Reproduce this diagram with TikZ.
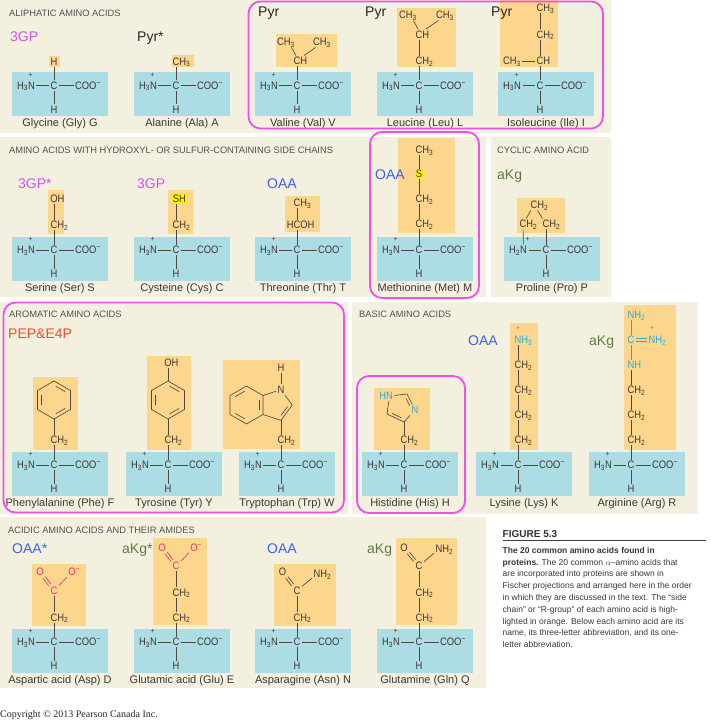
\documentclass[tikz,border=0pt]{standalone}
\usepackage{fontspec}
\setmainfont{Liberation Sans}
\newfontfamily\molfont[FakeStretch=0.87]{Liberation Sans}
\newfontfamily\seriffont{Liberation Serif}
\usetikzlibrary{positioning,calc}
\newcommand\fsz[1]{\fontsize{#1}{#1}\selectfont}
\definecolor{Beige}{RGB}{244,240,224}
\definecolor{Aqua}{RGB}{172,220,228}
\definecolor{Peach}{RGB}{253,214,142}
\definecolor{Magenta}{RGB}{240,80,232}
\definecolor{Ink}{RGB}{60,55,50}
\definecolor{Head}{RGB}{80,80,80}
\definecolor{BondC}{RGB}{80,72,62}
\definecolor{Lilac}{RGB}{206,86,236}
\definecolor{OAAblue}{RGB}{62,96,236}
\definecolor{KgGreen}{RGB}{96,122,66}
\definecolor{PEPred}{RGB}{242,76,44}
\definecolor{Cyanish}{RGB}{40,170,212}
\definecolor{Pinkish}{RGB}{234,52,112}
\definecolor{Lemon}{RGB}{255,240,0}
\tikzset{%
  panel/.style={fill=Beige},
  rgroup/.style={fill=Peach},
  sulfur/.style={fill=Lemon},
  core/.style={%
    fill=Aqua, minimum width=96pt, minimum height=44pt, inner sep=0pt
  },
  atom/.style={%
    font=\molfont\fsz{10.8}, text=Ink, inner sep=1.4pt,
    text height=7.7pt, text depth=0pt
  },
  plus/.style={font=\molfont\fsz{7.5}, text=Ink, inner sep=0pt},
  bond/.style={draw=BondC, line width=0.65pt},
  ring/.style={draw=BondC, line width=0.65pt, line join=round},
  acidbond/.style={draw=Pinkish, line width=0.65pt},
  guanbond/.style={draw=Cyanish, line width=0.65pt},
  aaname/.style={%
    font=\fsz{11}, text=Ink, inner sep=0pt, text height=8pt, text depth=0pt
  },
  heading/.style={%
    font=\fsz{9.3}, text=Head, anchor=west, inner sep=0pt,
    text height=6.7pt, text depth=0pt
  },
  precursor/.style={%
    font=\fsz{14}, text=black!85, anchor=west, inner sep=0pt,
    text height=10pt, text depth=0pt
  },
  hilite/.style={draw=Magenta, line width=1.8pt, rounded corners=12pt},
  caption/.style={%
    font=\fontsize{8.5}{11.8}\selectfont, text=Ink, align=left, inner sep=0pt
  },
}
% backbone: id, name, H count, x of the plus sign
\newcommand\backbone[4]{%
  \node[core] (#1-core) at (6,9) {};
  \node[atom] (#1-C) at (0,0) {C};
  \node[atom] (#1-N) at (-22.5,0) {\llap{H\textsubscript{#3}}N};
  \node[plus] (#1-Nplus) at (#4,-10.5) {+};
  \node[atom, anchor=west] (#1-COO) at (19.5,0) {COO\textsuperscript{−}};
  \node[atom] (#1-H) at (0,24) {H};
  \node[aaname] (#1-name) at (6,37.5) {#2};
  \draw[bond] (#1-N) -- (#1-C);
  \draw[bond] (#1-C) -- (#1-COO);
  \draw[bond] (#1-C) -- (#1-H);
}
\newcommand\benzene[3]{%
  \coordinate (#1-0) at #2;
  \foreach \k/\ang in {1/-90,2/-30,3/30,4/90,5/150,6/210}
    {\coordinate (#1-\k) at ($(#1-0)+(\ang:#3)$);}
  \draw[ring] (#1-1) -- (#1-2) -- (#1-3) -- (#1-4) -- (#1-5) -- (#1-6) -- cycle;
}
\newcommand\dbl[3]{%
  \draw[bond, shorten <=2pt, shorten >=2pt] ($(#1)!0.78!(#2)$) -- ($(#1)!0.78!(#3)$);
}
\newcommand\dblbond[3]{%
  \draw[#1, transform canvas={xshift=1.1pt,yshift=0.85pt}] (#2) -- (#3);
  \draw[#1, transform canvas={xshift=-1.1pt,yshift=-0.85pt}] (#2) -- (#3);
}
\begin{document}
\begin{tikzpicture}[x=1pt,y=-1pt]
\useasboundingbox (0,0) rectangle (710,722);
\fill[white] (0,0) rectangle (710,722);
% panels
\fill[panel] (0,0) rectangle (611,133);
\fill[panel] (0,137) rectangle (486,297);
\fill[panel] (491,137) rectangle (611,297);
\fill[panel] (0,302) rectangle (348,514);
\fill[panel] (352,302) rectangle (698,514);
\fill[panel] (0,517) rectangle (486,688);

% aliphatic
\node[heading] (aliph) at (9,13) {ALIPHATIC AMINO ACIDS};
\begin{scope}[shift={(54,85.5)}]
  \fill[rgroup] (-5.5,-29.5) rectangle (6,-18.5);
  \backbone{Gly}{Glycine (Gly) G}{3}{-23.5}
  \node[atom] (Gly-R) at (0,-24) {H};
  \draw[bond] (Gly-C) -- (Gly-R);
\end{scope}
\begin{scope}[shift={(176,85.5)}]
  \fill[rgroup] (-4,-30) rectangle (18,-18);
  \backbone{Ala}{Alanine (Ala) A}{3}{-23.5}
  \node[atom] (Ala-R) at (0,-24) {C\rlap{H\textsubscript{3}}};
  \draw[bond] (Ala-C) -- (Ala-R);
\end{scope}
\begin{scope}[shift={(297,85.5)}]
  \fill[rgroup] (-21,-51.5) rectangle (40,-18.5);
  \backbone{Val}{Valine (Val) V}{3}{-23.5}
  \node[atom] (Val-b) at (0,-24.5) {C\rlap{H}};
  \node[atom] (Val-g1) at (-11,-43.5) {CH\textsubscript{3}};
  \node[atom] (Val-g2) at (25,-43.5) {CH\textsubscript{3}};
  \draw[bond] (Val-C) -- (Val-b);
  \draw[bond] ([xshift=-1pt]Val-b.north) -- ([xshift=-5pt]Val-g1.south east);
  \draw[bond] ([xshift=7pt]Val-b.north) -- ([xshift=4pt]Val-g2.south west);
\end{scope}
\begin{scope}[shift={(419,85.5)}]
  \fill[rgroup] (-22,-77) rectangle (37,-18);
  \backbone{Leu}{Leucine (Leu) L}{3}{-23.5}
  \node[atom] (Leu-b) at (0,-24.5) {C\rlap{H\textsubscript{2}}};
  \node[atom] (Leu-g) at (0,-51) {C\rlap{H}};
  \node[atom] (Leu-d1) at (-11,-70.5) {CH\textsubscript{3}};
  \node[atom] (Leu-d2) at (26,-70.5) {CH\textsubscript{3}};
  \draw[bond] (Leu-C) -- (Leu-b);
  \draw[bond] (Leu-b) -- (Leu-g);
  \draw[bond] ([xshift=-1pt]Leu-g.north) -- ([xshift=-5pt]Leu-d1.south east);
  \draw[bond] ([xshift=7pt]Leu-g.north) -- ([xshift=4pt]Leu-d2.south west);
\end{scope}
\begin{scope}[shift={(540,85.5)}]
  \fill[rgroup] (-40,-85.5) rectangle (18,-18);
  \backbone{Ile}{Isoleucine (Ile) I}{3}{-23.5}
  \node[atom] (Ile-b) at (0,-24.5) {C\rlap{H}};
  \node[atom] (Ile-m) at (-28,-24.5) {CH\textsubscript{3}};
  \node[atom] (Ile-g) at (0,-51) {C\rlap{H\textsubscript{2}}};
  \node[atom] (Ile-d) at (0,-77.5) {C\rlap{H\textsubscript{3}}};
  \draw[bond] (Ile-C) -- (Ile-b);
  \draw[bond] (Ile-m) -- (Ile-b);
  \draw[bond] (Ile-b) -- (Ile-g);
  \draw[bond] (Ile-g) -- (Ile-d);
\end{scope}

% hydroxyl / sulfur and cyclic
\node[heading] (hydrox) at (9,150) {AMINO ACIDS WITH HYDROXYL- OR SULFUR-CONTAINING SIDE CHAINS};
\node[heading] (cyclic) at (497,150) {CYCLIC AMINO ACID};
\begin{scope}[shift={(54,250)}]
  \fill[rgroup] (-6,-60) rectangle (10,-16);
  \backbone{Ser}{Serine (Ser) S}{3}{-23.5}
  \node[atom] (Ser-b) at (0,-25) {C\rlap{H\textsubscript{2}}};
  \node[atom] (Ser-g) at (0,-51) {O\rlap{H}};
  \draw[bond] (Ser-C) -- (Ser-b);
  \draw[bond] (Ser-b) -- (Ser-g);
\end{scope}
\begin{scope}[shift={(176,250)}]
  \fill[rgroup] (-8,-60) rectangle (17,-16);
  \fill[sulfur] (-4,-56) rectangle (12,-46);
  \backbone{Cys}{Cysteine (Cys) C}{3}{-23.5}
  \node[atom] (Cys-b) at (0,-25) {C\rlap{H\textsubscript{2}}};
  \node[atom] (Cys-g) at (0,-51) {S\rlap{H}};
  \draw[bond] (Cys-C) -- (Cys-b);
  \draw[bond] (Cys-b) -- (Cys-g);
\end{scope}
\begin{scope}[shift={(297,250)}]
  \fill[rgroup] (-12,-54) rectangle (23,-18);
  \backbone{Thr}{Threonine (Thr) T}{3}{-23.5}
  \node[atom] (Thr-b) at (0,-25) {\llap{H}C\rlap{OH}};
  \node[atom] (Thr-g) at (0,-47) {C\rlap{H\textsubscript{3}}};
  \draw[bond] (Thr-C) -- (Thr-b);
  \draw[bond] (Thr-b) -- (Thr-g);
\end{scope}
\begin{scope}[shift={(419,250)}]
  \fill[rgroup] (-21,-112) rectangle (36,-17);
  \fill[sulfur] (-4,-81) rectangle (4.5,-71);
  \backbone{Met}{Methionine (Met) M}{3}{-23.5}
  \node[atom] (Met-b) at (0,-26) {C\rlap{H\textsubscript{2}}};
  \node[atom] (Met-g) at (0,-51) {C\rlap{H\textsubscript{2}}};
  \node[atom] (Met-d) at (0,-76) {S};
  \node[atom] (Met-e) at (0,-100) {C\rlap{H\textsubscript{3}}};
  \draw[bond] (Met-C) -- (Met-b);
  \draw[bond] (Met-b) -- (Met-g);
  \draw[bond] (Met-g) -- (Met-d);
  \draw[bond] (Met-d) -- (Met-e);
\end{scope}
\begin{scope}[shift={(546,250)}]
  \fill[rgroup] (-29,-52) rectangle (19,-17);
  \backbone{Pro}{Proline (Pro) P}{2}{-18.5}
  \node[atom] (Pro-b) at (0,-26) {C\rlap{H\textsubscript{2}}};
  \node[atom] (Pro-d) at (-23,-26) {C\rlap{H\textsubscript{2}}};
  \node[atom] (Pro-g) at (-12,-45) {C\rlap{H\textsubscript{2}}};
  \draw[bond] (Pro-C) -- (Pro-b);
  \draw[bond] (Pro-N) -- (Pro-d);
  \draw[bond] (Pro-g) -- (Pro-d);
  \draw[bond] (Pro-g) -- (Pro-b);
\end{scope}

% aromatic and basic
\node[heading] (arom) at (9,314) {AROMATIC AMINO ACIDS};
\node[heading] (basic) at (359,314) {BASIC AMINO ACIDS};
\begin{scope}[shift={(54,465)}]
  \fill[rgroup] (-21,-88) rectangle (24,-15);
  \backbone{Phe}{Phenylalanine (Phe) F}{3}{-23.5}
  \node[atom] (Phe-b) at (0,-25) {C\rlap{H\textsubscript{2}}};
  \benzene{Phe-ring}{(0,-65)}{19}
  \dbl{Phe-ring-0}{Phe-ring-1}{Phe-ring-2}
  \dbl{Phe-ring-0}{Phe-ring-3}{Phe-ring-4}
  \dbl{Phe-ring-0}{Phe-ring-5}{Phe-ring-6}
  \draw[bond] (Phe-C) -- (Phe-b);
  \draw[bond] (Phe-b) -- (Phe-ring-4);
\end{scope}
\begin{scope}[shift={(168,465)}]
  \fill[rgroup] (-21,-109) rectangle (23,-15);
  \backbone{Tyr}{Tyrosine (Tyr) Y}{3}{-23.5}
  \node[atom] (Tyr-b) at (0,-25) {C\rlap{H\textsubscript{2}}};
  \benzene{Tyr-ring}{(0,-65)}{19}
  \dbl{Tyr-ring-0}{Tyr-ring-1}{Tyr-ring-2}
  \dbl{Tyr-ring-0}{Tyr-ring-3}{Tyr-ring-4}
  \dbl{Tyr-ring-0}{Tyr-ring-5}{Tyr-ring-6}
  \node[atom] (Tyr-g) at (0,-102) {O\rlap{H}};
  \draw[bond] (Tyr-C) -- (Tyr-b);
  \draw[bond] (Tyr-b) -- (Tyr-ring-4);
  \draw[bond] (Tyr-ring-1) -- (Tyr-g);
\end{scope}
\begin{scope}[shift={(281,465)}]
  \fill[rgroup] (-58,-105) rectangle (19,-16);
  \backbone{Trp}{Tryptophan (Trp) W}{3}{-23.5}
  \node[atom] (Trp-b) at (0,-25) {C\rlap{H\textsubscript{2}}};
  \benzene{Trp-ring}{(-34.5,-60)}{19}
  \dbl{Trp-ring-0}{Trp-ring-6}{Trp-ring-1}
  \dbl{Trp-ring-0}{Trp-ring-4}{Trp-ring-5}
  \dbl{Trp-ring-0}{Trp-ring-2}{Trp-ring-3}
  \node[atom] (Trp-n) at (0,-75.4) {N};
  \node[atom] (Trp-h) at (0,-97) {H};
  \coordinate (Trp-c2) at (11.2,-60);
  \coordinate (Trp-c3) at (0,-44.6);
  \coordinate (Trp-pc) at (-5,-60);
  \draw[bond] (Trp-ring-2) -- (Trp-n);
  \draw[bond] (Trp-n) -- (Trp-c2);
  \draw[ring] (Trp-c2) -- (Trp-c3) -- (Trp-ring-3);
  \dbl{Trp-pc}{Trp-c2}{Trp-c3}
  \draw[bond] (Trp-n) -- (Trp-h);
  \draw[bond] (Trp-C) -- (Trp-b);
  \draw[bond] (Trp-b) -- (Trp-c3);
\end{scope}
\begin{scope}[shift={(404,465)}]
  \fill[rgroup] (-30,-77) rectangle (26,-15);
  \backbone{His}{Histidine (His) H}{3}{-23.5}
  \node[atom] (His-b) at (0,-25) {C\rlap{H\textsubscript{2}}};
  \node[atom, text=Cyanish] (His-n1) at (-14.5,-69) {\llap{H}N};
  \node[atom, text=Cyanish] (His-n3) at (11,-55) {N};
  \coordinate (His-c2) at (3,-71);
  \coordinate (His-c4) at (0,-43);
  \coordinate (His-c5) at (-17,-51);
  \coordinate (His-rc) at (-3,-58);
  \draw[bond] (His-n1) -- (His-c2);
  \draw[bond] (His-c2) -- (His-n3);
  \draw[bond] (His-n3) -- (His-c4);
  \draw[ring] (His-c4) -- (His-c5);
  \draw[bond] (His-c5) -- (His-n1);
  \draw[bond, shorten <=1.5pt, shorten >=4pt] ($(His-rc)!0.75!(His-c2)$) -- ($(His-rc)!0.75!(His-n3)$);
  \dbl{His-rc}{His-c4}{His-c5}
  \draw[bond] (His-C) -- (His-b);
  \draw[bond] (His-b) -- (His-c4);
\end{scope}
\begin{scope}[shift={(518,465)}]
  \fill[rgroup] (-8,-142) rectangle (20,-15);
  \backbone{Lys}{Lysine (Lys) K}{3}{-23.5}
  \node[atom] (Lys-b) at (0,-25) {C\rlap{H\textsubscript{2}}};
  \node[atom] (Lys-g) at (0,-50) {C\rlap{H\textsubscript{2}}};
  \node[atom] (Lys-d) at (0,-75) {C\rlap{H\textsubscript{2}}};
  \node[atom] (Lys-e) at (0,-100) {C\rlap{H\textsubscript{2}}};
  \node[atom, text=Cyanish] (Lys-z) at (0,-125) {N\rlap{H\textsubscript{3}}};
  \node[plus, text=Cyanish] (Lys-zplus) at (0,-137) {+};
  \draw[bond] (Lys-C) -- (Lys-b);
  \draw[bond] (Lys-b) -- (Lys-g);
  \draw[bond] (Lys-g) -- (Lys-d);
  \draw[bond] (Lys-d) -- (Lys-e);
  \draw[bond] (Lys-e) -- (Lys-z);
\end{scope}
\begin{scope}[shift={(631,465)}]
  \fill[rgroup] (-7,-160) rectangle (45,-15);
  \backbone{Arg}{Arginine (Arg) R}{3}{-23.5}
  \node[atom] (Arg-b) at (0,-25) {C\rlap{H\textsubscript{2}}};
  \node[atom] (Arg-g) at (0,-50) {C\rlap{H\textsubscript{2}}};
  \node[atom] (Arg-d) at (0,-75) {C\rlap{H\textsubscript{2}}};
  \node[atom, text=Cyanish] (Arg-e) at (0,-100) {N\rlap{H}};
  \node[atom, text=Cyanish] (Arg-z) at (0,-125) {C};
  \node[atom, text=Cyanish] (Arg-h1) at (0,-150) {N\rlap{H\textsubscript{2}}};
  \node[atom, text=Cyanish] (Arg-h2) at (21,-125) {N\rlap{H\textsubscript{2}}};
  \node[plus, text=Cyanish] (Arg-h2plus) at (21,-137) {+};
  \draw[bond] (Arg-C) -- (Arg-b);
  \draw[bond] (Arg-b) -- (Arg-g);
  \draw[bond] (Arg-g) -- (Arg-d);
  \draw[bond] (Arg-d) -- (Arg-e);
  \draw[guanbond] (Arg-e) -- (Arg-z);
  \draw[guanbond] (Arg-z) -- (Arg-h1);
  \draw[guanbond] ([yshift=1.4pt]Arg-z.east) -- ([yshift=1.4pt]Arg-h2.west);
  \draw[guanbond] ([yshift=-1.4pt]Arg-z.east) -- ([yshift=-1.4pt]Arg-h2.west);
\end{scope}

% acidic and amides
\node[heading] (acidic) at (8,530) {ACIDIC AMINO ACIDS AND THEIR AMIDES};
\begin{scope}[shift={(54,642)}]
  \fill[rgroup] (-22,-78) rectangle (32,-16);
  \backbone{Asp}{Aspartic acid (Asp) D}{3}{-23.5}
  \node[atom] (Asp-b) at (0,-24.5) {C\rlap{H\textsubscript{2}}};
  \node[atom, text=Pinkish] (Asp-g) at (0,-51.5) {C};
  \node[atom, text=Pinkish] (Asp-o1) at (-14,-70) {O};
  \node[atom, text=Pinkish] (Asp-o2) at (18,-70) {O\rlap{\textsuperscript{−}}};
  \draw[bond] (Asp-C) -- (Asp-b);
  \draw[bond] (Asp-b) -- (Asp-g);
  \dblbond{acidbond}{Asp-g}{Asp-o1}
  \draw[acidbond] (Asp-g) -- (Asp-o2);
\end{scope}
\begin{scope}[shift={(176,642)}]
  \fill[rgroup] (-23,-104) rectangle (31,-17);
  \backbone{Glu}{Glutamic acid (Glu) E}{3}{-23.5}
  \node[atom] (Glu-b) at (0,-24.5) {C\rlap{H\textsubscript{2}}};
  \node[atom] (Glu-g) at (0,-49.5) {C\rlap{H\textsubscript{2}}};
  \node[atom, text=Pinkish] (Glu-d) at (0,-76) {C};
  \node[atom, text=Pinkish] (Glu-o1) at (-14,-94.5) {O};
  \node[atom, text=Pinkish] (Glu-o2) at (18,-94.5) {O\rlap{\textsuperscript{−}}};
  \draw[bond] (Glu-C) -- (Glu-b);
  \draw[bond] (Glu-b) -- (Glu-g);
  \draw[bond] (Glu-g) -- (Glu-d);
  \dblbond{acidbond}{Glu-d}{Glu-o1}
  \draw[acidbond] (Glu-d) -- (Glu-o2);
\end{scope}
\begin{scope}[shift={(297,642)}]
  \fill[rgroup] (-23,-78) rectangle (39,-16);
  \backbone{Asn}{Asparagine (Asn) N}{3}{-23.5}
  \node[atom] (Asn-b) at (0,-24.5) {C\rlap{H\textsubscript{2}}};
  \node[atom] (Asn-g) at (0,-51.5) {C};
  \node[atom] (Asn-o1) at (-14.5,-70) {O};
  \node[atom] (Asn-n) at (20,-68) {N\rlap{H\textsubscript{2}}};
  \draw[bond] (Asn-C) -- (Asn-b);
  \draw[bond] (Asn-b) -- (Asn-g);
  \dblbond{bond}{Asn-g}{Asn-o1}
  \draw[bond] (Asn-g) -- (Asn-n);
\end{scope}
\begin{scope}[shift={(419,642)}]
  \fill[rgroup] (-23,-104) rectangle (38,-17);
  \backbone{Gln}{Glutamine (Gln) Q}{3}{-23.5}
  \node[atom] (Gln-b) at (0,-24.5) {C\rlap{H\textsubscript{2}}};
  \node[atom] (Gln-g) at (0,-49.5) {C\rlap{H\textsubscript{2}}};
  \node[atom] (Gln-d) at (0,-76) {C};
  \node[atom] (Gln-o1) at (-15,-94.5) {O};
  \node[atom] (Gln-n) at (20,-93) {N\rlap{H\textsubscript{2}}};
  \draw[bond] (Gln-C) -- (Gln-b);
  \draw[bond] (Gln-b) -- (Gln-g);
  \draw[bond] (Gln-g) -- (Gln-d);
  \dblbond{bond}{Gln-d}{Gln-o1}
  \draw[bond] (Gln-d) -- (Gln-n);
\end{scope}

% precursors
\node[precursor, text=Lilac] (Gly-src) at (10,37) {3GP};
\node[precursor] (Ala-src) at (137,37) {Pyr*};
\node[precursor] (Val-src) at (258,11.5) {Pyr};
\node[precursor] (Leu-src) at (365,11.5) {Pyr};
\node[precursor] (Ile-src) at (491,11.5) {Pyr};
\node[precursor, text=Lilac] (Ser-src) at (18,184) {3GP*};
\node[precursor, text=Lilac] (Cys-src) at (137,184) {3GP};
\node[precursor, text=OAAblue] (Thr-src) at (267,184) {OAA};
\node[precursor, text=OAAblue] (Met-src) at (375,174) {OAA};
\node[precursor, text=KgGreen] (Pro-src) at (497,174) {aKg};
\node[precursor, text=PEPred] (Phe-src) at (8,333) {PEP\&E4P};
\node[precursor, text=OAAblue] (Lys-src) at (468,340) {OAA};
\node[precursor, text=KgGreen] (Arg-src) at (589,340) {aKg};
\node[precursor, text=OAAblue] (Asp-src) at (12,548) {OAA*};
\node[precursor, text=KgGreen] (Glu-src) at (122,548) {aKg*};
\node[precursor, text=OAAblue] (Asn-src) at (267,548) {OAA};
\node[precursor, text=KgGreen] (Gln-src) at (367,548) {aKg};

% highlighted groups
\draw[hilite] (248.5,1.5) rectangle (603,128.5);
\draw[hilite] (370,132) rectangle (479,298);
\draw[hilite] (3.5,302.5) rectangle (344,512.5);
\draw[hilite] (357,376) rectangle (465,513);

% caption
\node[anchor=west, inner sep=0pt, font=\bfseries\fsz{10}, text=black!80,
  text height=7.2pt, text depth=0pt] (fig-no) at (502.5,533.5) {FIGURE 5.3};
\coordinate (rule-l) at (502.5,540.5);
\coordinate (rule-r) at (706,540.5);
\draw[line width=1.2pt, black!75] (rule-l) -- (rule-r);
\node[caption, anchor=north west] (fig-text) at (502.5,547) {%
  \textbf{The 20 common amino acids found in}\\
  \textbf{proteins.} The 20 common $\alpha$–amino acids that\\
  are incorporated into proteins are shown in\\
  Fischer projections and arranged here in the order\\
  in which they are discussed in the text. The “side\\
  chain” or “R-group” of each amino acid is high-\\
  lighted in orange. Below each amino acid are its\\
  name, its three-letter abbreviation, and its one-\\
  letter abbreviation.};
\node[anchor=west, inner sep=0pt, font=\seriffont\fsz{10}, text=black!85] (copyright) at (0,715) {Copyright © 2013 Pearson Canada Inc.};
\end{tikzpicture}
\end{document}
